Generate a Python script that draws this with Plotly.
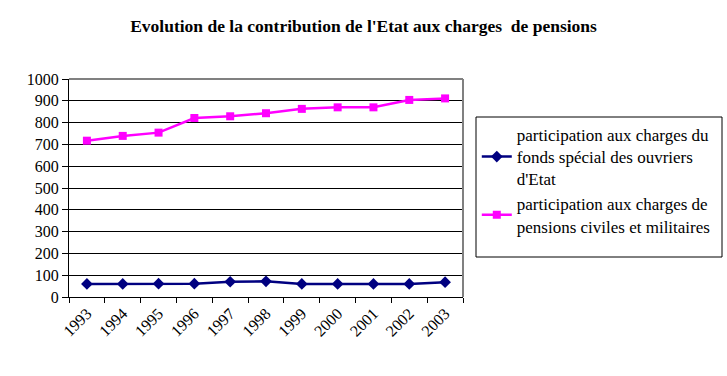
import plotly.graph_objects as go

years = ["1993", "1994", "1995", "1996", "1997", "1998", "1999", "2000", "2001", "2002", "2003"]
fonds_special = [60, 60, 61, 61, 70, 72, 60, 60, 60, 60, 68]
pensions_civiles = [717, 739, 754, 821, 829, 843, 863, 870, 870, 904, 911]

name1 = "participation aux charges du<br>fonds spécial des ouvriers<br>d'Etat"
name2 = "participation aux charges de<br>pensions civiles et militaires"

FONT = "Times New Roman, Liberation Serif, DejaVu Serif, serif"

fig = go.Figure()
fig.add_trace(go.Scatter(
    x=years, y=fonds_special, name=name1, mode="lines+markers",
    line=dict(color="#000080", width=2.5),
    marker=dict(symbol="diamond", size=9, color="#000080"),
))
fig.add_trace(go.Scatter(
    x=years, y=pensions_civiles, name=name2, mode="lines+markers",
    line=dict(color="#FF00FF", width=2.5),
    marker=dict(symbol="square", size=8, color="#FF00FF"),
))

fig.update_layout(
    width=727, height=376,
    margin=dict(l=69, r=264, t=79, b=79, autoexpand=False),
    paper_bgcolor="white", plot_bgcolor="white",
    font=dict(family=FONT, color="black", size=16),
    title=dict(text="<b>Evolution de la contribution de l'Etat aux charges  de pensions</b>",
               x=0.5, xanchor="center", y=0.93, yanchor="middle",
               font=dict(family=FONT, size=17.5, color="black")),
    showlegend=True,
    legend=dict(x=1.035, y=0.826, xanchor="left", yanchor="top",
                borderwidth=0, bgcolor="rgba(0,0,0,0)",
                font=dict(family=FONT, size=17, color="black"),
                tracegroupgap=3, itemwidth=30),
)
fig.update_xaxes(
    type="category", range=[-0.5, 10.5], automargin=False,
    showline=True, linecolor="black", linewidth=1,
    ticks="outside", tickson="boundaries", ticklen=5, tickcolor="black",
    tickangle=-45, showgrid=False, tickfont=dict(family=FONT, size=16),
)
fig.update_yaxes(
    range=[0, 1000], dtick=100, automargin=False,
    showline=True, linecolor="black", linewidth=1,
    ticks="outside", ticklen=6, tickcolor="black",
    showgrid=True, gridcolor="black", gridwidth=1,
    zeroline=False, tickfont=dict(family=FONT, size=16),
)
fig.add_shape(type="line", xref="x domain", yref="y domain", x0=0, x1=1, y0=1, y1=1,
              line=dict(color="#808080", width=2))
fig.add_shape(type="line", xref="x domain", yref="y domain", x0=1, x1=1, y0=0, y1=1,
              line=dict(color="#808080", width=2))
# legend frame
fig.add_shape(type="rect", xref="paper", yref="paper",
              x0=(476 - 69) / 394, x1=(722 - 69) / 394,
              y0=(297 - 257) / 218, y1=(297 - 117) / 218,
              line=dict(color="black", width=1))

fig.write_html("out.html", config={"displayModeBar": False},
               post_script="document.body.style.margin='0px';")
